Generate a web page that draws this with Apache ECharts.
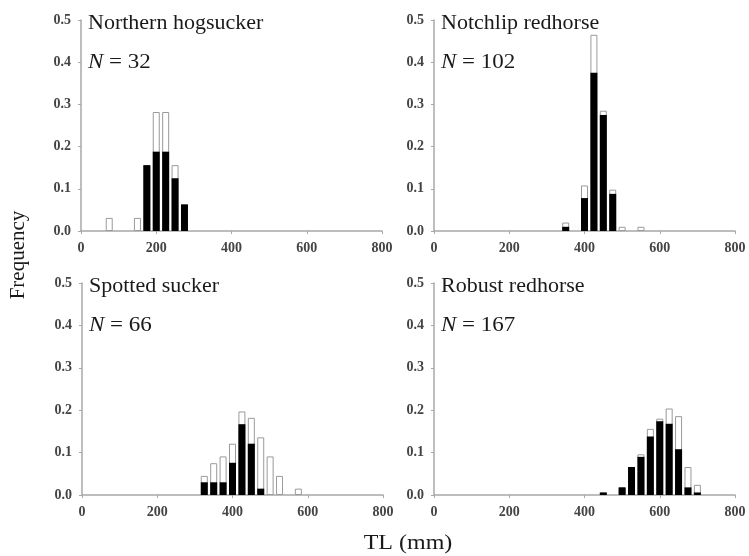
<!DOCTYPE html>
<html>
<head>
<meta charset="utf-8">
<script src="https://cdn.jsdelivr.net/npm/echarts@6/dist/echarts.min.js"></script>
<style>html,body{margin:0;padding:0;background:#fff;}#c{width:749px;height:556px;}</style>
</head>
<body>
<div id="c"></div>
<script>
// Data: bin centres (TL, mm), black portion and white portion of each bar (frequency)
var hogBins   = [75, 150, 175, 200, 225, 250, 275];
var hogBlack  = [0, 0, 0.156, 0.188, 0.188, 0.125, 0.063];
var hogWhite  = [0.031, 0.031, 0, 0.094, 0.094, 0.031, 0];

var notchBins  = [350, 400, 425, 450, 475, 500, 550];
var notchBlack = [0.010, 0.078, 0.375, 0.275, 0.088, 0, 0];
var notchWhite = [0.010, 0.030, 0.090, 0.010, 0.010, 0.010, 0.010];

var spotBins  = [325, 350, 375, 400, 425, 450, 475, 500, 525, 575];
var spotBlack = [0.030, 0.030, 0.030, 0.076, 0.167, 0.121, 0.015, 0, 0, 0];
var spotWhite = [0.015, 0.045, 0.061, 0.045, 0.030, 0.061, 0.121, 0.091, 0.045, 0.015];

var robBins  = [450, 500, 525, 550, 575, 600, 625, 650, 675, 700];
var robBlack = [0.006, 0.018, 0.066, 0.090, 0.138, 0.174, 0.168, 0.108, 0.018, 0.006];
var robWhite = [0, 0, 0, 0.006, 0.018, 0.006, 0.036, 0.078, 0.048, 0.018];

var panelNames = ['Northern hogsucker', 'Notchlip redhorse', 'Spotted sucker', 'Robust redhorse'];
var panelN = ['32', '102', '66', '167'];
var xTicks = [0, 200, 400, 600, 800];
var yTicks = [0, 0.1, 0.2, 0.3, 0.4, 0.5];

var panels = [
  {bins: hogBins, black: hogBlack, white: hogWhite},
  {bins: notchBins, black: notchBlack, white: notchWhite},
  {bins: spotBins, black: spotBlack, white: spotWhite},
  {bins: robBins, black: robBlack, white: robWhite}
];

var FONT = '"Liberation Serif", "Times New Roman", serif';
var gridPos = [
  {left: 81, top: 20, width: 301, height: 211},
  {left: 434, top: 20, width: 301, height: 211},
  {left: 82, top: 283, width: 301, height: 212},
  {left: 434, top: 283, width: 301, height: 212}
];

var grids = [], xAxes = [], yAxes = [], series = [], graphics = [];
gridPos.forEach(function (g, i) {
  grids.push({left: g.left, top: g.top, width: g.width, height: g.height});
  xAxes.push({
    type: 'value', gridIndex: i, min: xTicks[0], max: xTicks[xTicks.length - 1], interval: 200,
    axisLine: {lineStyle: {color: '#a8a8a8', width: 1.5}},
    axisTick: {show: true, length: 3, lineStyle: {color: '#a8a8a8'}},
    splitLine: {show: false},
    axisLabel: {fontFamily: FONT, fontSize: 14, color: '#444', fontWeight: 'bold', margin: 10}
  });
  yAxes.push({
    type: 'value', gridIndex: i, min: yTicks[0], max: yTicks[yTicks.length - 1], interval: 0.1,
    axisLine: {show: true, lineStyle: {color: '#a8a8a8', width: 1.5}},
    axisTick: {show: true, length: 3, lineStyle: {color: '#a8a8a8'}},
    splitLine: {show: false},
    axisLabel: {fontFamily: FONT, fontSize: 14, color: '#444', fontWeight: 'bold', margin: 10,
      formatter: function (v) { return v.toFixed(1); }}
  });
  var p = panels[i];
  // white bar drawn to full height (black + white), black portion overlaid from the base
  series.push({
    type: 'bar', xAxisIndex: i, yAxisIndex: i, barWidth: 7, barGap: '-100%',
    data: p.bins.map(function (x, k) { return [x, p.black[k] + p.white[k]]; }),
    itemStyle: {color: '#fff', borderColor: '#9a9a9a', borderWidth: 1}, silent: true
  });
  series.push({
    type: 'bar', xAxisIndex: i, yAxisIndex: i, barWidth: 7, barGap: '-100%',
    data: p.bins.map(function (x, k) { return [x, p.black[k]]; }),
    itemStyle: {color: '#000'}, silent: true
  });
  graphics.push({
    type: 'text', x: g.left + 7, y: g.top + 4, scaleX: 1.1,
    style: {text: panelNames[i], font: '20px ' + FONT, fill: '#1a1a1a', verticalAlign: 'middle'}
  });
  graphics.push({
    type: 'text', x: g.left + 7, y: g.top + 43, scaleX: 1.15,
    style: {
      text: '{i|N} = ' + panelN[i], font: '20px ' + FONT, fill: '#1a1a1a', verticalAlign: 'middle',
      rich: {i: {fontStyle: 'italic', fontFamily: FONT, fontSize: 20, fill: '#1a1a1a'}}
    }
  });
});

graphics.push({
  type: 'text', x: 408, y: 544, scaleX: 1.2,
  style: {text: 'TL (mm)', font: '20px ' + FONT, fill: '#1a1a1a', align: 'center', verticalAlign: 'middle'}
});
graphics.push({
  type: 'text', x: 18, y: 255, rotation: Math.PI / 2,
  style: {text: 'Frequency', font: '21px ' + FONT, fill: '#1a1a1a', align: 'center', verticalAlign: 'middle'}
});

var chart = echarts.init(document.getElementById('c'), null, {renderer: 'canvas'});
chart.setOption({
  animation: false,
  grid: grids, xAxis: xAxes, yAxis: yAxes, series: series, graphic: graphics
});
</script>
</body>
</html>
